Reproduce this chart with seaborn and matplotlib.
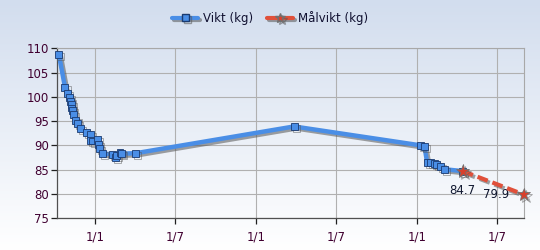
import numpy as np
import pandas as pd
import matplotlib
matplotlib.use("Agg")
import matplotlib.pyplot as plt
import matplotlib.dates as mdates
import matplotlib.patheffects as pe
from matplotlib.colors import LinearSegmentedColormap
from matplotlib.lines import Line2D
import seaborn as sns

# ---- data ----
weigh_dates = ["2012-10-10", "2012-10-24", "2012-10-30", "2012-11-04", "2012-11-06",
               "2012-11-07", "2012-11-08", "2012-11-10", "2012-11-12", "2012-11-18",
               "2012-11-22", "2012-11-29", "2012-12-11", "2012-12-20", "2012-12-21",
               "2012-12-26", "2013-01-05", "2013-01-08", "2013-01-11", "2013-01-18",
               "2013-02-08", "2013-02-15", "2013-02-18", "2013-02-26", "2013-03-02",
               "2013-04-03", "2014-03-28", "2015-01-10", "2015-01-18", "2015-01-24",
               "2015-01-31", "2015-02-10", "2015-02-14", "2015-02-23", "2015-03-04",
               "2015-04-15"]
weights = [108.8, 102.0, 100.7, 99.9, 99.1,
           98.4, 97.7, 97.2, 96.4, 95.2,
           94.5, 93.5, 92.6, 92.2, 91.1,
           90.9, 91.2, 90.2, 89.4, 88.3,
           88.2, 87.6, 88.0, 88.6, 88.3,
           88.4, 93.9, 90.0, 89.8, 86.5,
           86.4, 86.3, 86.1, 85.7, 85.1,
           84.7]
target_dates = ["2015-04-15", "2015-08-31"]
target_values = [84.7, 79.9]
target_labels = ["84.7", "79.9"]
series_names = ["Vikt (kg)", "Målvikt (kg)"]
y_ticks = [75, 80, 85, 90, 95, 100, 105, 110]

df = pd.DataFrame({"date": pd.to_datetime(weigh_dates), "kg": weights})
dt = pd.DataFrame({"date": pd.to_datetime(target_dates), "kg": target_values})

sns.set_theme(style="white")
plt.rcParams["font.family"] = ["DejaVu Sans"]

fig = plt.figure(figsize=(5.4, 2.5), dpi=100)

# background gradient
bg = fig.add_axes([0, 0, 1, 1], zorder=-10)
cmap = LinearSegmentedColormap.from_list("bg", ["#d2ddee", "#ffffff"])
bg.imshow(np.linspace(0, 1, 256).reshape(-1, 1), aspect="auto", cmap=cmap,
          extent=[0, 1, 0, 1])
bg.set_axis_off()

ax = fig.add_axes([0.1056, 0.127, 0.864, 0.680])
ax.set_facecolor("none")

blue = "#4a8ee6"
red = "#e0503a"
line_fx = [pe.SimpleLineShadow(offset=(1.5, -1.5), shadow_color="#555555", alpha=0.55),
           pe.Normal()]

sns.lineplot(data=df, x="date", y="kg", ax=ax, color=blue, linewidth=3.2,
             marker="s", markersize=5, markerfacecolor=blue,
             markeredgecolor="#1a3a70", markeredgewidth=0.6,
             path_effects=line_fx, zorder=3, clip_on=False)
sns.lineplot(data=dt, x="date", y="kg", ax=ax, color=red, linewidth=3.0,
             linestyle=(0, (2.6, 1.2)), marker="*", markersize=10,
             markerfacecolor="#d8402c", markeredgecolor="#707070", markeredgewidth=0.6,
             path_effects=line_fx, zorder=4, clip_on=False)

txtcol = "#101830"
ax.annotate(target_labels[0], (dt["date"][0], target_values[0]), xytext=(0, -9),
            textcoords="offset points", ha="center", va="top", fontsize=8.5,
            color=txtcol)
ax.annotate(target_labels[1], (dt["date"][1], target_values[1]), xytext=(-10, 0),
            textcoords="offset points", ha="right", va="center", fontsize=8.5,
            color=txtcol)

ax.set_xlim(pd.Timestamp("2012-10-06"), pd.Timestamp("2015-08-31"))
ax.set_ylim(75, 110)
ax.set_yticks(y_ticks)
ax.xaxis.set_major_locator(mdates.MonthLocator(bymonth=[1, 7]))
ax.xaxis.set_major_formatter(plt.FuncFormatter(
    lambda v, p: f"{mdates.num2date(v).day}/{mdates.num2date(v).month}"))
ax.set_xlabel("")
ax.set_ylabel("")
ax.grid(True, color="#b0b0b0", linewidth=0.8)
ax.set_axisbelow(True)
for s in ["top", "right"]:
    ax.spines[s].set_color("#a8a8a8")
    ax.spines[s].set_linewidth(0.8)
for s in ["left", "bottom"]:
    ax.spines[s].set_color("#505050")
    ax.spines[s].set_linewidth(0.9)
ax.tick_params(axis="both", which="major", length=4, width=0.9, color="#202020",
               labelsize=8.5, labelcolor="#400030", pad=2, direction="out",
               left=True, bottom=True)
ax.tick_params(axis="x", pad=5)

handles = [Line2D([], [], color=blue, linewidth=3, marker="s", markersize=5,
                  markerfacecolor=blue, markeredgecolor="#1a3a70",
                  path_effects=line_fx),
           Line2D([], [], color=red, linewidth=3, marker="*", markersize=7,
                  markerfacecolor="#d8402c", markeredgecolor="#707070",
                  path_effects=line_fx)]
fig.legend(handles, series_names, loc="center", bbox_to_anchor=(0.5, 0.928),
           ncol=2, frameon=False, fontsize=8.5, handlelength=2.2,
           columnspacing=1.2, handletextpad=0.4, labelcolor="#101030")

fig.savefig("out.png", dpi=100)
